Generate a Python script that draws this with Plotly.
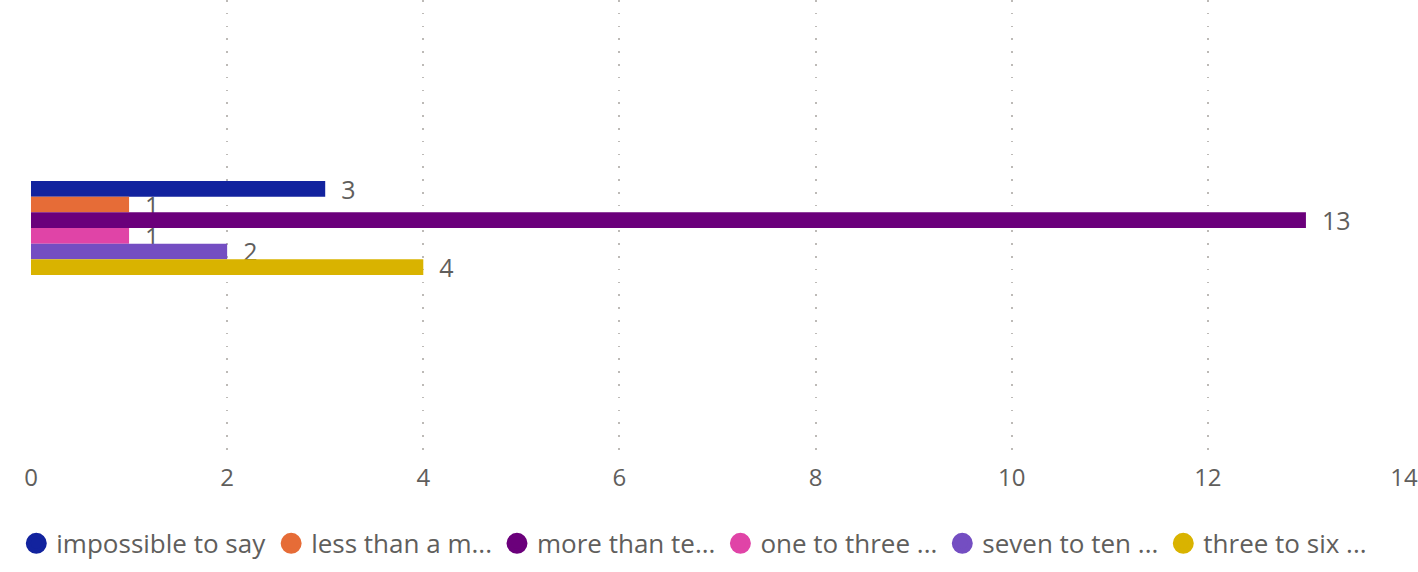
import plotly.graph_objects as go

# Response categories (legend text as shown, truncated) and their counts
series_names = [
    "impossible to say",
    "less than a m...",
    "more than te...",
    "one to three ...",
    "seven to ten ...",
    "three to six ...",
]
series_values = [3, 1, 13, 1, 2, 4]
series_colors = ["#12239E", "#E66C37", "#6B007B", "#E044A7", "#744EC2", "#D9B300"]
category = [""]
x_ticks = [0, 2, 4, 6, 8, 10, 12, 14]

FONT = "Segoe UI, Open Sans, Noto Sans, sans-serif"
TEXT_GRAY = "#605E5C"

fig = go.Figure()

for name, val, col in zip(series_names, series_values, series_colors):
    fig.add_trace(go.Bar(
        y=category,
        x=[val],
        orientation="h",
        name=name,
        marker=dict(color=col, line=dict(width=0)),
        text=[val],
        texttemplate="\u00a0\u00a0%{x}",
        textposition="outside",
        constraintext="none",
        cliponaxis=False,
        textfont=dict(family=FONT, size=25, color=TEXT_GRAY),
        showlegend=False,
        hoverinfo="x+name",
    ))

# Legend entries drawn as round markers
for name, col in zip(series_names, series_colors):
    fig.add_trace(go.Scatter(
        x=[None], y=[None],
        mode="markers",
        name=name,
        marker=dict(color=col, size=16, symbol="circle",
                    line=dict(color=col, width=5)),
        showlegend=True,
        hoverinfo="skip",
    ))

fig.update_layout(
    width=1418,
    height=572,
    margin=dict(l=31, r=10, t=0, b=116),
    paper_bgcolor="white",
    plot_bgcolor="white",
    barmode="group",
    bargap=0.794,
    bargroupgap=0,
    font=dict(family=FONT, color=TEXT_GRAY),
    legend=dict(
        orientation="h",
        xref="container",
        yref="container",
        x=0.0115,
        y=0.05,
        xanchor="left",
        yanchor="middle",
        font=dict(family=FONT, size=26, color=TEXT_GRAY),
        itemsizing="trace",
        traceorder="normal",
    ),
    xaxis=dict(
        range=[0, 14],
        tickvals=x_ticks,
        showgrid=True,
        gridcolor="#BDBAB7",
        griddash="1.5px,11.3px",
        gridwidth=1.5,
        zeroline=False,
        showline=False,
        ticks="",
        ticklabeloverflow="allow",
        ticklabelstandoff=5,
        tickfont=dict(family=FONT, size=24, color=TEXT_GRAY),
        fixedrange=True,
    ),
    yaxis=dict(
        type="category",
        range=[0.5, -0.5],
        showgrid=False,
        zeroline=False,
        showticklabels=False,
        ticks="",
        fixedrange=True,
    ),
)

fig.write_html("out.html")
